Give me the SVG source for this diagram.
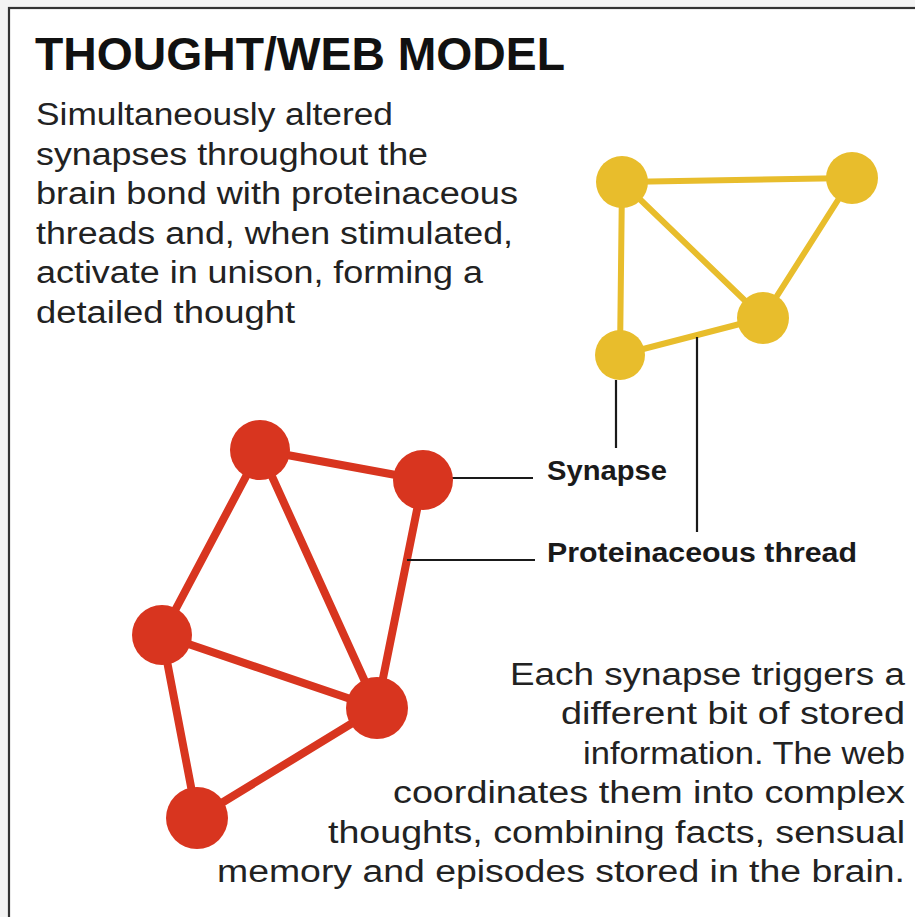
<svg xmlns="http://www.w3.org/2000/svg" width="915" height="917" viewBox="0 0 915 917">
  <style>
    .title { font-family: "Liberation Sans", Arial, sans-serif; font-weight: bold; font-size: 46px; fill: #111; }
    .body { font-family: "Liberation Sans", Arial, sans-serif; font-size: 31px; fill: #222; }
    .label { font-family: "Liberation Sans", Arial, sans-serif; font-weight: bold; font-size: 28px; fill: #1a1a1a; }
    .thread-y { stroke: #E8BD2C; stroke-width: 6; stroke-linecap: round; fill: none; }
    .thread-r { stroke: #D8351F; stroke-width: 8; stroke-linecap: round; fill: none; }
    .syn-y { fill: #E8BD2C; }
    .syn-r { fill: #D8351F; }
    .leader { stroke: #1a1a1a; stroke-width: 2.2; fill: none; }
  </style>

  <!-- page background and frame -->
  <rect x="0" y="0" width="915" height="917" fill="#f3f3f3"/>
  <rect x="9" y="8" width="930" height="930" fill="#ffffff" stroke="#333" stroke-width="2.2"/>

  <!-- heading -->
  <text class="title" x="35" y="70" textLength="530" lengthAdjust="spacingAndGlyphs">THOUGHT/WEB MODEL</text>

  <!-- intro paragraph -->
  <g id="intro-text">
    <text class="body" x="36" y="125" textLength="357" lengthAdjust="spacingAndGlyphs">Simultaneously altered</text>
    <text class="body" x="36" y="165" textLength="392" lengthAdjust="spacingAndGlyphs">synapses throughout the</text>
    <text class="body" x="36" y="204" textLength="482" lengthAdjust="spacingAndGlyphs">brain bond with proteinaceous</text>
    <text class="body" x="36" y="244" textLength="477" lengthAdjust="spacingAndGlyphs">threads and, when stimulated,</text>
    <text class="body" x="36" y="283" textLength="447" lengthAdjust="spacingAndGlyphs">activate in unison, forming a</text>
    <text class="body" x="36" y="323" textLength="259" lengthAdjust="spacingAndGlyphs">detailed thought</text>
  </g>

  <!-- threads between synapses -->
  <g id="connectors">
    <!-- small yellow web -->
    <line class="thread-y" x1="622" y1="182" x2="852" y2="178"/>
    <line class="thread-y" x1="622" y1="182" x2="763" y2="318"/>
    <line class="thread-y" x1="622" y1="182" x2="620" y2="355"/>
    <line class="thread-y" x1="852" y1="178" x2="763" y2="318"/>
    <line class="thread-y" x1="620" y1="355" x2="763" y2="318"/>
    <!-- large red web -->
    <line class="thread-r" x1="260" y1="450" x2="423" y2="480"/>
    <line class="thread-r" x1="260" y1="450" x2="162" y2="635"/>
    <line class="thread-r" x1="260" y1="450" x2="377" y2="708"/>
    <line class="thread-r" x1="423" y1="480" x2="377" y2="708"/>
    <line class="thread-r" x1="162" y1="635" x2="377" y2="708"/>
    <line class="thread-r" x1="162" y1="635" x2="197" y2="818"/>
    <line class="thread-r" x1="197" y1="818" x2="377" y2="708"/>
    <!-- callout leaders -->
    <line class="leader" x1="616" y1="380" x2="616" y2="448"/>
    <line class="leader" x1="697" y1="337" x2="697" y2="532"/>
    <line class="leader" x1="452" y1="478" x2="533" y2="478"/>
    <line class="leader" x1="407" y1="560" x2="535" y2="560"/>
  </g>

  <!-- yellow synapses -->
  <g id="y-syn-1"><circle class="syn-y" cx="622" cy="182" r="26"/></g>
  <g id="y-syn-2"><circle class="syn-y" cx="852" cy="178" r="26"/></g>
  <g id="y-syn-3"><circle class="syn-y" cx="763" cy="318" r="26"/></g>
  <g id="y-syn-4"><circle class="syn-y" cx="620" cy="355" r="25"/></g>

  <!-- red synapses -->
  <g id="r-syn-1"><circle class="syn-r" cx="260" cy="450" r="30"/></g>
  <g id="r-syn-2"><circle class="syn-r" cx="423" cy="480" r="30"/></g>
  <g id="r-syn-3"><circle class="syn-r" cx="162" cy="635" r="30"/></g>
  <g id="r-syn-4"><circle class="syn-r" cx="377" cy="708" r="31"/></g>
  <g id="r-syn-5"><circle class="syn-r" cx="197" cy="818" r="31"/></g>

  <!-- callout labels -->
  <g id="label-synapse">
    <text class="label" x="547" y="480" textLength="120" lengthAdjust="spacingAndGlyphs">Synapse</text>
  </g>
  <g id="label-thread">
    <text class="label" x="547" y="562" textLength="310" lengthAdjust="spacingAndGlyphs">Proteinaceous thread</text>
  </g>

  <!-- closing paragraph -->
  <g id="outro-text">
    <text class="body" x="905" y="685" text-anchor="end" textLength="395" lengthAdjust="spacingAndGlyphs">Each synapse triggers a</text>
    <text class="body" x="905" y="724" text-anchor="end" textLength="344" lengthAdjust="spacingAndGlyphs">different bit of stored</text>
    <text class="body" x="905" y="764" text-anchor="end" textLength="322" lengthAdjust="spacingAndGlyphs">information. The web</text>
    <text class="body" x="905" y="803" text-anchor="end" textLength="512" lengthAdjust="spacingAndGlyphs">coordinates them into complex</text>
    <text class="body" x="905" y="843" text-anchor="end" textLength="577" lengthAdjust="spacingAndGlyphs">thoughts, combining facts, sensual</text>
    <text class="body" x="905" y="882" text-anchor="end" textLength="688" lengthAdjust="spacingAndGlyphs">memory and episodes stored in the brain.</text>
  </g>
</svg>
